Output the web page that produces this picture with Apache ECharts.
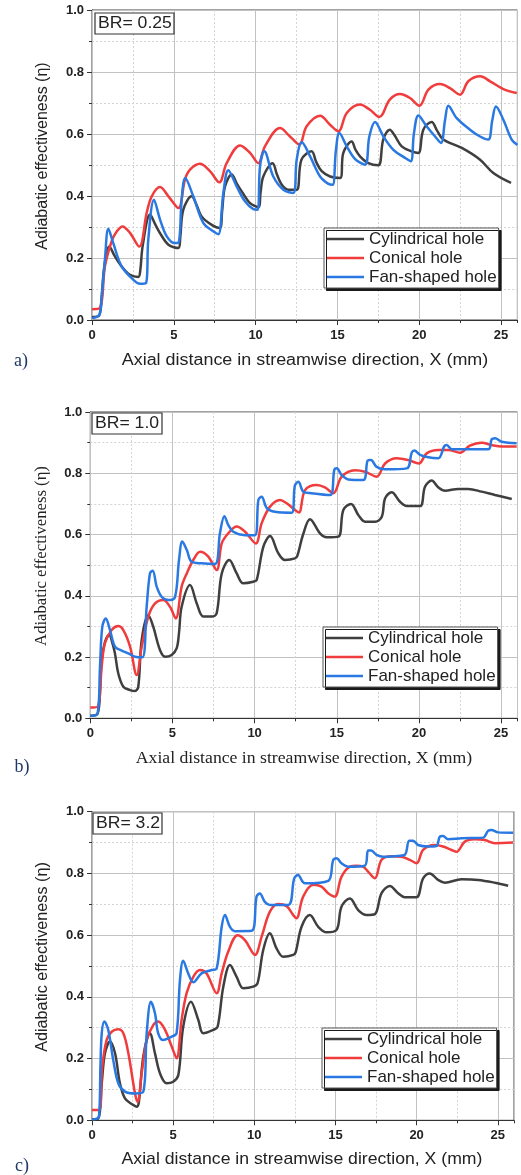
<!DOCTYPE html>
<html>
<head>
<meta charset="utf-8">
<script src="https://cdn.jsdelivr.net/npm/echarts@6/dist/echarts.min.js"></script>
<style>
  html, body { margin: 0; padding: 0; background: #fff; }
  #chart { width: 521px; height: 1175px; }
</style>
</head>
<body>
<div id="chart"></div>
<script>
// Film-cooling effectiveness along the plate for three hole shapes, at three blowing ratios.
const seriesNames = ['Cylindrical hole', 'Conical hole', 'Fan-shaped hole'];
const panelTags = ['a)', 'b)', 'c)'];
const blowingRatios = ['BR= 0.25', 'BR= 1.0', 'BR= 3.2'];
const xTitle = 'Axial distance in streamwise direction, X (mm)';
const yTitle = 'Adiabatic effectiveness (\u03b7)';
const xTickLabels = ['0', '5', '10', '15', '20', '25'];
const yTickLabels = ['0.0', '0.2', '0.4', '0.6', '0.8', '1.0'];

// [X (mm), effectiveness] — BR = 0.25
const cylA = [[0,0.01],[0.4,0.012],[0.55,0.05],[0.75,0.17],[1.06,0.237],[1.4,0.205],[1.81,0.173],[2.32,0.146],[2.83,0.139],[2.95,0.16],[3.1,0.24],[3.55,0.34],[3.85,0.31],[4.16,0.28],[4.67,0.243],[5.28,0.232],[5.4,0.27],[5.58,0.356],[6.09,0.399],[6.4,0.37],[6.7,0.334],[7.32,0.307],[7.82,0.297],[7.95,0.35],[8.13,0.431],[8.54,0.469],[8.85,0.44],[9.15,0.415],[9.66,0.377],[10.17,0.364],[10.3,0.41],[10.47,0.463],[11.04,0.506],[11.3,0.47],[11.6,0.436],[12.0,0.42],[12.51,0.42],[12.8,0.517],[13.42,0.544],[13.7,0.51],[14.04,0.48],[14.55,0.463],[15.16,0.458],[15.36,0.539],[15.87,0.576],[16.1,0.55],[16.38,0.528],[16.89,0.506],[17.5,0.499],[17.8,0.582],[18.2,0.614],[18.5,0.595],[18.93,0.56],[19.54,0.544],[19.95,0.539],[20.25,0.614],[20.76,0.639],[21.1,0.61],[21.47,0.582],[22.6,0.555],[23.72,0.517],[24.53,0.474],[25.61,0.442]];
const conA = [[0,0.035],[0.49,0.039],[0.79,0.173],[1.2,0.254],[1.5,0.285],[1.87,0.302],[2.32,0.281],[2.89,0.237],[3.34,0.345],[3.65,0.399],[4.16,0.429],[4.67,0.399],[5.28,0.361],[5.68,0.453],[5.99,0.485],[6.6,0.504],[7.21,0.48],[7.78,0.444],[8.23,0.506],[9.05,0.563],[9.66,0.539],[10.17,0.506],[10.57,0.56],[11.49,0.619],[12.1,0.592],[12.67,0.566],[13.12,0.625],[13.94,0.659],[14.55,0.63],[15.06,0.609],[15.57,0.668],[16.38,0.695],[16.99,0.678],[17.56,0.655],[18.2,0.711],[18.83,0.729],[19.44,0.716],[20.01,0.691],[20.56,0.743],[21.27,0.761],[21.88,0.748],[22.49,0.727],[23.0,0.77],[23.72,0.786],[24.33,0.77],[25.14,0.745],[25.96,0.732]];
const fanA = [[0,0.006],[0.45,0.017],[0.6,0.08],[0.79,0.195],[1.0,0.294],[1.3,0.248],[1.81,0.173],[2.52,0.13],[2.93,0.117],[3.3,0.119],[3.44,0.259],[3.79,0.388],[4.16,0.324],[4.57,0.27],[5.07,0.248],[5.3,0.25],[5.48,0.388],[5.7,0.458],[6.19,0.399],[6.8,0.313],[7.41,0.286],[7.72,0.277],[8.03,0.41],[8.33,0.483],[8.84,0.431],[9.35,0.383],[9.86,0.358],[10.12,0.356],[10.27,0.496],[10.53,0.544],[11.08,0.463],[11.7,0.42],[12.3,0.41],[12.51,0.517],[12.82,0.573],[13.33,0.528],[13.94,0.463],[14.45,0.439],[14.71,0.436],[14.91,0.549],[15.12,0.603],[15.57,0.56],[16.08,0.519],[16.69,0.501],[16.95,0.592],[17.3,0.639],[17.81,0.592],[18.42,0.549],[19.13,0.523],[19.48,0.512],[19.68,0.603],[19.95,0.66],[20.45,0.625],[20.97,0.592],[21.33,0.571],[21.58,0.646],[21.78,0.691],[22.29,0.651],[23.1,0.614],[23.72,0.592],[24.22,0.582],[24.47,0.646],[24.69,0.689],[25.14,0.646],[25.65,0.582],[26,0.565]];

// BR = 1.0
const cylB = [[0,0.008],[0.45,0.016],[0.6,0.1],[0.69,0.19],[0.9,0.25],[1.15,0.272],[1.35,0.245],[1.5,0.212],[1.7,0.147],[2.01,0.103],[2.42,0.092],[2.72,0.089],[2.92,0.103],[3.13,0.256],[3.53,0.337],[3.83,0.299],[4.24,0.223],[4.55,0.201],[4.95,0.207],[5.26,0.229],[5.4,0.28],[5.56,0.364],[6.07,0.435],[6.48,0.375],[6.88,0.332],[7.39,0.332],[7.69,0.343],[8.0,0.473],[8.46,0.517],[8.91,0.473],[9.31,0.441],[9.92,0.446],[10.13,0.452],[10.53,0.56],[10.94,0.595],[11.44,0.539],[11.85,0.517],[12.46,0.522],[12.6,0.53],[12.95,0.6],[13.37,0.65],[13.98,0.604],[14.39,0.591],[15.1,0.593],[15.4,0.68],[15.87,0.7],[16.31,0.664],[16.72,0.642],[17.33,0.642],[17.74,0.658],[17.94,0.718],[18.34,0.738],[18.85,0.707],[19.26,0.693],[20.07,0.693],[20.37,0.756],[20.78,0.776],[21.18,0.754],[21.59,0.743],[22.4,0.749],[23.0,0.749],[23.82,0.74],[24.63,0.729],[25.65,0.716]];
const conB = [[0,0.035],[0.45,0.038],[0.69,0.168],[0.89,0.245],[1.3,0.288],[1.7,0.301],[2.01,0.288],[2.42,0.234],[2.82,0.141],[3.13,0.234],[3.53,0.332],[3.94,0.375],[4.44,0.386],[4.85,0.364],[5.2,0.326],[5.56,0.43],[5.87,0.473],[6.3,0.52],[6.68,0.544],[7.18,0.528],[7.69,0.484],[8.0,0.571],[8.4,0.604],[8.91,0.626],[9.42,0.609],[10.07,0.571],[10.43,0.637],[10.94,0.691],[11.55,0.713],[11.95,0.702],[12.46,0.68],[12.7,0.672],[13.07,0.745],[13.78,0.762],[14.28,0.754],[14.79,0.735],[15.3,0.789],[16.11,0.81],[16.72,0.805],[17.43,0.789],[17.94,0.832],[18.65,0.849],[19.35,0.843],[20.0,0.832],[20.47,0.865],[21.18,0.876],[21.8,0.876],[22.5,0.867],[23.1,0.89],[23.82,0.9],[24.43,0.892],[25.04,0.887],[25.95,0.887]];
const fanB = [[0,0.008],[0.45,0.016],[0.59,0.168],[0.73,0.299],[0.94,0.326],[1.2,0.288],[1.5,0.234],[1.91,0.221],[2.31,0.212],[2.72,0.201],[3.17,0.199],[3.43,0.364],[3.63,0.473],[3.8,0.482],[4.04,0.43],[4.34,0.397],[4.75,0.386],[5.15,0.395],[5.4,0.517],[5.6,0.577],[5.87,0.55],[6.17,0.511],[6.78,0.506],[7.59,0.504],[7.89,0.604],[8.16,0.66],[8.4,0.631],[8.7,0.609],[9.42,0.598],[10.02,0.598],[10.23,0.713],[10.43,0.723],[10.74,0.686],[11.24,0.674],[12.26,0.671],[12.45,0.76],[12.66,0.772],[12.97,0.74],[13.47,0.735],[14.6,0.729],[14.85,0.811],[15.0,0.816],[15.3,0.794],[15.7,0.78],[16.62,0.778],[16.88,0.841],[17.08,0.843],[17.43,0.821],[17.94,0.813],[19.26,0.816],[19.56,0.867],[19.72,0.874],[20.07,0.86],[20.57,0.852],[21.18,0.849],[21.55,0.889],[21.69,0.892],[22.0,0.878],[24.22,0.878],[24.43,0.911],[24.63,0.914],[25.04,0.903],[25.95,0.898]];

// BR = 3.2
const cylC = [[0,0.003],[0.39,0.006],[0.6,0.12],[0.8,0.217],[1.11,0.255],[1.42,0.217],[1.72,0.12],[2.03,0.071],[2.44,0.053],[2.75,0.044],[2.89,0.06],[3.16,0.206],[3.57,0.282],[3.88,0.217],[4.19,0.152],[4.6,0.12],[5.0,0.125],[5.32,0.147],[5.62,0.303],[6.1,0.384],[6.55,0.325],[6.85,0.282],[7.47,0.293],[7.74,0.303],[8.09,0.433],[8.5,0.503],[8.91,0.465],[9.32,0.428],[9.93,0.433],[10.2,0.444],[10.55,0.552],[10.96,0.606],[11.37,0.557],[11.78,0.53],[12.4,0.536],[12.55,0.545],[12.91,0.627],[13.42,0.665],[13.94,0.627],[14.45,0.609],[15.07,0.617],[15.37,0.692],[15.89,0.719],[16.4,0.681],[16.92,0.665],[17.43,0.668],[17.84,0.736],[18.35,0.759],[18.86,0.736],[19.27,0.723],[19.99,0.723],[20.4,0.784],[20.81,0.8],[21.32,0.779],[21.74,0.77],[22.77,0.781],[23.79,0.779],[24.82,0.77],[25.64,0.76]];
const conC = [[0,0.033],[0.43,0.033],[0.63,0.174],[0.9,0.26],[1.21,0.287],[1.62,0.295],[1.93,0.282],[2.24,0.217],[2.65,0.087],[2.81,0.06],[3.06,0.152],[3.37,0.26],[3.78,0.309],[4.08,0.32],[4.5,0.293],[4.91,0.239],[5.21,0.201],[5.52,0.325],[5.83,0.412],[6.24,0.465],[6.65,0.487],[7.06,0.476],[7.68,0.412],[7.99,0.476],[8.39,0.546],[8.97,0.6],[9.42,0.584],[10.04,0.536],[10.45,0.595],[10.96,0.676],[11.47,0.701],[11.99,0.694],[12.4,0.665],[12.6,0.655],[13.01,0.725],[13.63,0.763],[14.14,0.757],[14.55,0.736],[14.96,0.725],[15.37,0.789],[15.89,0.822],[16.3,0.825],[16.7,0.822],[17.01,0.806],[17.43,0.784],[17.84,0.844],[18.45,0.856],[19.07,0.854],[19.58,0.844],[20.0,0.833],[20.4,0.876],[21.12,0.892],[21.63,0.887],[22.15,0.876],[22.46,0.87],[22.97,0.903],[23.58,0.911],[24.2,0.908],[24.82,0.898],[25.94,0.9]];
const fanC = [[0,0.003],[0.43,0.012],[0.52,0.174],[0.6,0.282],[0.76,0.32],[1.0,0.293],[1.31,0.195],[1.62,0.12],[2.03,0.093],[2.65,0.087],[3.16,0.093],[3.37,0.282],[3.63,0.384],[3.88,0.347],[4.08,0.282],[4.39,0.26],[4.91,0.271],[5.21,0.282],[5.42,0.455],[5.62,0.517],[5.93,0.476],[6.24,0.447],[6.75,0.476],[7.37,0.487],[7.68,0.492],[7.99,0.627],[8.19,0.665],[8.5,0.627],[8.81,0.613],[9.83,0.614],[10.14,0.725],[10.34,0.735],[10.65,0.708],[10.96,0.698],[12.09,0.698],[12.46,0.784],[12.7,0.795],[12.95,0.775],[13.12,0.768],[14.55,0.776],[14.86,0.843],[15.07,0.849],[15.37,0.833],[15.78,0.822],[16.8,0.825],[17.01,0.874],[17.2,0.874],[17.53,0.86],[17.94,0.854],[18.66,0.856],[19.27,0.86],[19.54,0.906],[19.79,0.906],[20.09,0.892],[20.71,0.887],[21.22,0.889],[21.43,0.919],[21.63,0.921],[21.94,0.911],[22.77,0.914],[24.1,0.916],[24.4,0.938],[24.61,0.941],[25.02,0.933],[25.94,0.932]];

const panelData = [[cylA, conA, fanA], [cylB, conB, fanB], [cylC, conC, fanC]];

// ---- appearance ----
const lineColors = ['#3f3f3f', '#f03c3c', '#2a79e2'];
const SANS = '"Liberation Sans", Arial, sans-serif';
const SERIF = '"Liberation Serif", "Times New Roman", serif';
const layout = [
  { grid: { left: 92, top: 10, width: 425.4, height: 310 }, titleFont: SANS, titleSize: 16, xScale: 1.12,
    xTitle: [305, 361], yTitle: [43, 156], tag: [21, 361], br: [95, 13, 79], legend: [324, 228] },
  { grid: { left: 90.3, top: 412, width: 427.2, height: 306.3 }, titleFont: SERIF, titleSize: 16.7, xScale: 1.06,
    xTitle: [304, 759], yTitle: [42, 556], tag: [22, 767], br: [92, 413, 70], legend: [323, 627] },
  { grid: { left: 92, top: 811.7, width: 422, height: 308.6 }, titleFont: SANS, titleSize: 16.2, xScale: 1.09,
    xTitle: [302, 1160], yTitle: [43, 957], tag: [22, 1166], br: [93, 813, 69], legend: [322, 1028] }
];

const grids = [], xAxes = [], yAxes = [], series = [], legends = [], graphics = [];
const tickLabelStyle = { fontFamily: SANS, fontWeight: 'bold', fontSize: 13, color: '#222' };

layout.forEach((p, i) => {
  grids.push(Object.assign({ show: true, borderColor: '#444', borderWidth: 1, backgroundColor: 'transparent' }, p.grid));

  // labelled axis: majors every 5 mm
  xAxes.push({
    type: 'value', gridIndex: i, min: 0, max: 26, interval: 5, position: 'bottom', z: 3,
    axisLine: { show: true, lineStyle: { color: '#333', width: 1 } },
    axisTick: { show: true, inside: false, length: 5, lineStyle: { color: '#333' } },
    axisLabel: Object.assign({ margin: 9, showMaxLabel: false,
      formatter: v => xTickLabels.includes(String(v)) ? String(v) : '' }, tickLabelStyle),
    splitLine: { show: true, lineStyle: { color: '#c2c2c2', width: 1 } }
  });
  // companion axis for the 2.5 mm dotted gridlines and minor ticks
  xAxes.push({
    type: 'value', gridIndex: i, min: 0, max: 26, interval: 2.5, position: 'bottom', z: 1,
    axisLine: { show: false }, axisLabel: { show: false },
    axisTick: { show: true, inside: false, length: 3, lineStyle: { color: '#333' } },
    splitLine: { show: true, lineStyle: { color: '#d4d4d4', width: 1, type: [2, 2] } }
  });
  yAxes.push({
    type: 'value', gridIndex: i, min: 0, max: 1, interval: 0.2,
    axisLine: { show: true, lineStyle: { color: '#333', width: 1 } },
    axisTick: { show: true, inside: false, length: 5, lineStyle: { color: '#333' } },
    minorTick: { show: true, splitNumber: 2, length: 3, lineStyle: { color: '#333' } },
    axisLabel: Object.assign({ margin: 8, formatter: v => yTickLabels[Math.round(v / 0.2)] }, tickLabelStyle),
    splitLine: { show: true, lineStyle: { color: '#c2c2c2', width: 1 } },
    minorSplitLine: { show: true, lineStyle: { color: '#d4d4d4', width: 1, type: [2, 2] } }
  });

  panelData[i].forEach((data, k) => {
    series.push({
      type: 'line', name: seriesNames[k], xAxisIndex: 2 * i, yAxisIndex: i,
      data: data, showSymbol: false, smooth: 0.35,
      color: lineColors[k], lineStyle: { width: 2.5, color: lineColors[k] },
      z: 5 + k, silent: true, animation: false
    });
  });

  legends.push({
    orient: 'vertical', left: p.legend[0], top: p.legend[1], data: seriesNames,
    selectedMode: false, icon: 'rect', itemWidth: 37, itemHeight: 2.5, itemGap: 1,
    padding: [2, 2, 2, 3], backgroundColor: '#fff', borderColor: '#555', borderWidth: 1,
    shadowColor: '#1a1a1a', shadowOffsetX: 2.5, shadowOffsetY: 2.5, shadowBlur: 0.01,
    textStyle: { fontFamily: SANS, fontSize: 17, color: '#222', lineHeight: 18 }, z: 10
  });

  // axis titles
  graphics.push({ type: 'text', x: p.xTitle[0], y: p.xTitle[1], scaleX: p.xScale,
    style: { text: xTitle, font: p.titleSize + 'px ' + p.titleFont, fill: '#222', align: 'center', verticalAlign: 'middle' } });
  graphics.push({ type: 'text', x: p.yTitle[0], y: p.yTitle[1], rotation: Math.PI / 2,
    style: { text: yTitle, font: p.titleSize + 'px ' + p.titleFont, fill: '#222', align: 'center', verticalAlign: 'middle' } });
  // sub-figure tag
  graphics.push({ type: 'text', x: p.tag[0], y: p.tag[1],
    style: { text: panelTags[i], font: '18px ' + SERIF, fill: '#1f3768', align: 'center', verticalAlign: 'middle' } });
  // blowing ratio box
  graphics.push({ type: 'rect', shape: { x: p.br[0], y: p.br[1], width: p.br[2], height: 21 }, z: 20,
    style: { fill: '#fff', stroke: '#333', lineWidth: 1.2 } });
  graphics.push({ type: 'text', x: p.br[0] + 3, y: p.br[1] + 11, z: 21, scaleX: 1.1,
    style: { text: blowingRatios[i], font: '16px ' + SANS, fill: '#222', align: 'left', verticalAlign: 'middle' } });
});

const chart = echarts.init(document.getElementById('chart'), null, { renderer: 'canvas' });
chart.setOption({
  backgroundColor: '#fff',
  animation: false,
  grid: grids, xAxis: xAxes, yAxis: yAxes, series: series, legend: legends,
  graphic: { elements: graphics }
});
</script>
</body>
</html>
